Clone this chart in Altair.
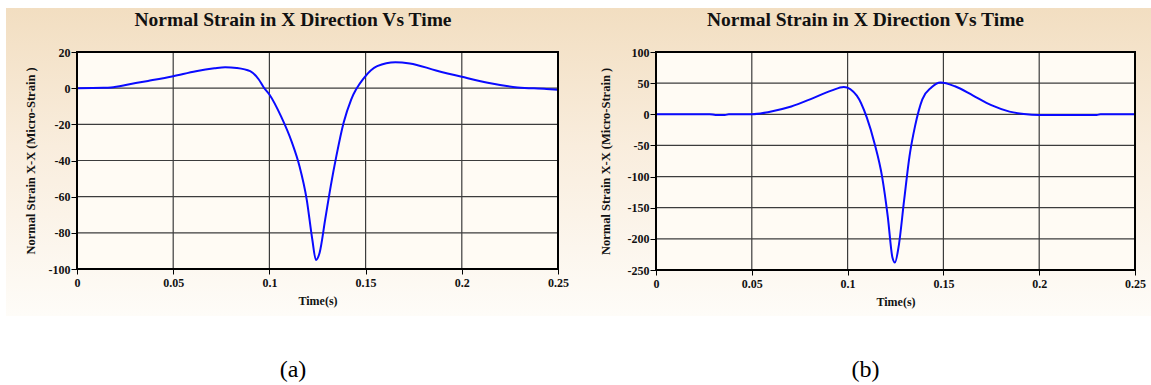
import altair as alt
import pandas as pd

# ---------------- data ----------------
time_a = [0.0, 0.0138, 0.0177, 0.0273, 0.0369, 0.05, 0.0618, 0.0714, 0.077, 0.083, 0.09, 0.0945,
          0.097, 0.1, 0.106, 0.1117, 0.1156, 0.1194, 0.1223, 0.1242, 0.1261, 0.129, 0.1319,
          0.1348, 0.1386, 0.1425, 0.1492, 0.156, 0.1655, 0.173, 0.1866, 0.2, 0.2135, 0.229,
          0.244, 0.25]
strain_a = [0.0, 0.2, 0.4, 2.2, 4.0, 6.6, 9.4, 11.0, 11.6, 11.2, 9.4, 4.8,
            0.5, -3.5, -15.5, -30.0, -43.0, -61.6, -83.7, -95.0, -91.0, -72.6, -54.0,
            -37.6, -19.0, -6.3, 5.7, 12.2, 14.4, 13.7, 9.8, 6.3, 3.0, 0.4,
            -0.4, -0.9]

time_b = [0.0, 0.028, 0.031, 0.036, 0.038, 0.05, 0.059, 0.0706, 0.082, 0.0915, 0.098, 0.1048,
          0.11, 0.114, 0.118, 0.121, 0.1234, 0.1247, 0.1266, 0.1295, 0.1323, 0.1352, 0.139,
          0.1437, 0.1485, 0.156, 0.1655, 0.175, 0.1845, 0.192, 0.2, 0.23, 0.232, 0.25]
strain_b = [0.0, 0.0, -1.0, -1.0, 0.0, 0.0, 3.8, 12.4, 26.0, 38.0, 44.0, 30.0,
            -5.0, -46.0, -100.0, -165.0, -230.0, -238.0, -213.0, -138.0, -67.5, -19.0, 24.0,
            43.0, 51.0, 45.0, 30.0, 14.6, 4.3, 0.5, -1.0, -1.0, 0.0, 0.0]

x_ticks = [0, 0.05, 0.1, 0.15, 0.2, 0.25]
y_ticks_a = [20, 0, -20, -40, -60, -80, -100]
y_ticks_b = [100, 50, 0, -50, -100, -150, -200, -250]

title_text = "Normal Strain in X Direction Vs Time"
y_title = "Normal Strain X-X (Micro-Strain )"
x_title = "Time(s)"

FONT = "Liberation Serif"


def panel(times, strains, yticks, label, W, H, bg_left, bg_right, ytitle_pad):
    df = pd.DataFrame({"t": times, "s": strains})
    one = pd.DataFrame({"k": [0]})
    ydom = [min(yticks), max(yticks)]
    xs = alt.Scale(domain=[0, 0.25], nice=False, zero=False)
    ys = alt.Scale(domain=ydom, nice=False, zero=False)

    xaxis = alt.Axis(values=x_ticks, labelExpr="'' + datum.value", title=x_title, grid=False,
                     domain=False, tickColor="black", tickSize=5, labelPadding=3,
                     labelFont=FONT, labelFontSize=12, labelFontWeight="bold",
                     labelColor="#111", titleFont=FONT, titleFontSize=12,
                     titleFontWeight="bold", titleColor="#111", titlePadding=7,
                     labelFlush=False, zindex=1)
    yaxis = alt.Axis(values=yticks, labelExpr="'' + datum.value", title=y_title, grid=False,
                     domain=False, tickColor="black", tickSize=6, labelPadding=1,
                     labelFont=FONT, labelFontSize=12, labelFontWeight="bold",
                     labelColor="#111", titleFont=FONT, titleFontSize=12.5,
                     titleFontWeight="bold", titleColor="#111", titlePadding=ytitle_pad,
                     zindex=1)

    bg = alt.Chart(one).mark_rect(
        fill=alt.Gradient(gradient="linear",
                          stops=[alt.GradientStop(color="#f2dec1", offset=0),
                                 alt.GradientStop(color="#f9eddd", offset=0.45),
                                 alt.GradientStop(color="#fefcf8", offset=1)],
                          x1=0, y1=0, x2=0, y2=1)
    ).encode(x=alt.value(bg_left), x2=alt.value(bg_right), y=alt.value(-44), y2=alt.value(264))

    plotbg = alt.Chart(one).mark_rect(fill="#fffbf4").encode(
        x=alt.value(0), x2=alt.value(W), y=alt.value(0), y2=alt.value(H))

    hgrid = alt.Chart(pd.DataFrame({"v": yticks})).mark_rule(
        color="#3c3c3c", strokeWidth=1.2).encode(
        y=alt.Y("v:Q", scale=ys, axis=yaxis), x=alt.value(0), x2=alt.value(W))
    vgrid = alt.Chart(pd.DataFrame({"v": x_ticks})).mark_rule(
        color="#3c3c3c", strokeWidth=1.2).encode(
        x=alt.X("v:Q", scale=xs, axis=xaxis), y=alt.value(0), y2=alt.value(H))

    line = alt.Chart(df).mark_line(color="#0a0aff", strokeWidth=2, interpolate="monotone").encode(
        x=alt.X("t:Q", scale=xs, axis=xaxis),
        y=alt.Y("s:Q", scale=ys, axis=yaxis),
    )

    frame = alt.Chart(one).mark_rect(fill=None, fillOpacity=0, stroke="black", strokeWidth=2).encode(
        x=alt.value(0), x2=alt.value(W), y=alt.value(0), y2=alt.value(H))

    title = alt.Chart(one).mark_text(
        text=title_text, font=FONT, fontSize=19.5, fontWeight="bold", color="#111",
        align="center", baseline="middle").encode(
        x=alt.value((bg_left + bg_right) / 2), y=alt.value(-32))

    lab = alt.Chart(one).mark_text(
        text=label, font=FONT, fontSize=24, color="black",
        align="center", baseline="middle").encode(
        x=alt.value((bg_left + bg_right) / 2), y=alt.value(318))

    return alt.layer(bg, plotbg, hgrid, vgrid, line, frame, title, lab).properties(width=W, height=H)


pa = panel(time_a, strain_a, y_ticks_a, "(a)", 481, 217, -71, 503, 11)
pb = panel(time_b, strain_b, y_ticks_b, "(b)", 479, 218, -76, 495, 15)

chart = alt.hconcat(pa, pb, spacing=0).properties(
    padding={"left": 6, "top": 8, "right": 0, "bottom": 0},
    background="white",
).configure_view(strokeWidth=0)

chart.save("out.html", embed_options={"renderer": "svg", "actions": False})
